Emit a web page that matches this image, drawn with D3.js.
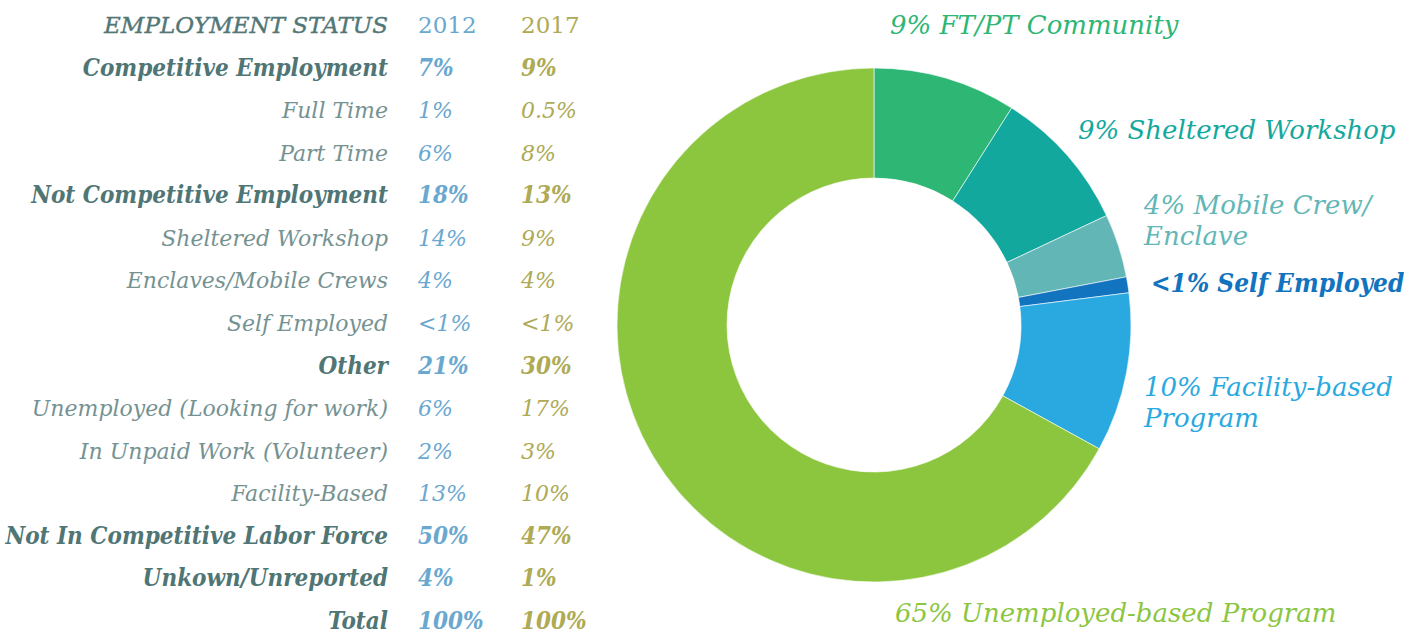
<!DOCTYPE html>
<html>
<head>
<meta charset="utf-8">
<script src="https://cdn.jsdelivr.net/npm/d3@7"></script>
<style>
  body { margin: 0; background: #fff; }
  svg text { font-family: 'DejaVu Serif', serif; font-style: italic; }
  svg text.strong { font-family: 'DejaVu Serif Condensed', 'DejaVu Serif', serif; font-stretch: condensed; font-weight: bold; }
</style>
</head>
<body>
<svg id="chart" width="1421" height="632"></svg>
<script>
// Table rows.
const statusLabels = ['Competitive Employment', 'Full Time', 'Part Time', 'Not Competitive Employment',
  'Sheltered Workshop', 'Enclaves/Mobile Crews', 'Self Employed', 'Other', 'Unemployed (Looking for work)',
  'In Unpaid Work (Volunteer)', 'Facility-Based', 'Not In Competitive Labor Force', 'Unkown/Unreported', 'Total']
const statusMain = [true, false, false, true, false, false, false, true, false, false, false, true, true, true]
const values2012 = ['7%', '1%', '6%', '18%', '14%', '4%', '<1%', '21%', '6%', '2%', '13%', '50%', '4%', '100%']
const values2017 = ['9%', '0.5%', '8%', '13%', '9%', '4%', '<1%', '30%', '17%', '3%', '10%', '47%', '1%', '100%']
const years = ['2012', '2017']

// Donut slices.
const sliceNames = ['FT/PT Community', 'Sheltered Workshop', 'Mobile Crew/ Enclave', 'Self Employed',
  'Facility-based Program', 'Unemployed-based Program']
const sliceValues = [9, 9, 4, 1, 10, 67]
const sliceLabels = [['9% FT/PT Community'], ['9% Sheltered Workshop'], ['4% Mobile Crew/', 'Enclave'],
  ['<1% Self Employed'], ['10% Facility-based', 'Program'], ['65% Unemployed-based Program']]
const sliceColors = ['#2db674', '#13a89e', '#62b7b6', '#1273bf', '#29a9e0', '#8cc63f']

const svg = d3.select('#chart')

// Table.
const labelRight = 388, col2012 = 418, col2017 = 521
const y = d3.scalePoint()
  .domain(d3.range(statusLabels.length + 1))
  .range([33, 629])

const header = svg.append('g')
header.append('text')
  .attr('x', labelRight).attr('y', y(0))
  .attr('text-anchor', 'end')
  .style('font-size', '23px')
  .style('fill', '#527777')
  .style('stroke', '#527777')
  .style('stroke-width', 0.4)
  .text('EMPLOYMENT STATUS')
header.selectAll('text.year')
  .data(years)
  .enter()
  .append('text')
    .attr('class', 'year')
    .attr('x', (d, i) => i === 0 ? col2012 : col2017)
    .attr('y', y(0))
    .style('font-style', 'normal')
    .style('font-size', '23px')
    .style('fill', (d, i) => i === 0 ? '#6aa8cf' : '#aeaa55')
    .text(d => d)

const rows = svg.append('g')
  .selectAll('g')
  .data(statusLabels)
  .enter()
  .append('g')
    .attr('transform', (d, i) => 'translate(0,' + y(i + 1) + ')')

rows.append('text')
  .attr('class', (d, i) => statusMain[i] ? 'strong' : null)
  .attr('x', labelRight)
  .attr('text-anchor', 'end')
  .style('font-size', (d, i) => statusMain[i] ? '24px' : '22px')
  .style('fill', (d, i) => statusMain[i] ? '#4f7575' : '#759292')
  .text(d => d)

rows.append('text')
  .attr('class', (d, i) => statusMain[i] ? 'strong' : null)
  .attr('x', col2012)
  .style('font-size', (d, i) => statusMain[i] ? '24px' : '22px')
  .style('fill', '#6aa8cf')
  .text((d, i) => values2012[i])

rows.append('text')
  .attr('class', (d, i) => statusMain[i] ? 'strong' : null)
  .attr('x', col2017)
  .style('font-size', (d, i) => statusMain[i] ? '24px' : '22px')
  .style('fill', '#aeaa55')
  .text((d, i) => values2017[i])

// Donut.
const cx = 874, cy = 325, outer = 257, inner = 147

const pie = d3.pie().sort(null).value(d => d)
const arc = d3.arc().innerRadius(inner).outerRadius(outer)

svg.append('g')
  .attr('transform', 'translate(' + cx + ',' + cy + ')')
  .selectAll('path')
  .data(pie(sliceValues))
  .enter()
  .append('path')
    .attr('d', arc)
    .style('fill', (d, i) => sliceColors[i])
    .style('stroke', '#fff')
    .style('stroke-width', 0.6)

// Slice labels (anchor position of first line).
const labelPos = [[890, 34], [1078, 139], [1144, 214], [1151, 292], [1144, 396], [895, 622]]

const labels = svg.append('g')
  .selectAll('text')
  .data(sliceLabels)
  .enter()
  .append('text')
    .attr('class', (d, i) => i === 3 ? 'strong' : null)
    .attr('x', (d, i) => labelPos[i][0])
    .attr('y', (d, i) => labelPos[i][1])
    .style('font-size', (d, i) => i === 3 ? '26px' : '26px')
    .style('fill', (d, i) => sliceColors[i])

labels.selectAll('tspan')
  .data(d => d)
  .enter()
  .append('tspan')
    .attr('x', function() { return d3.select(this.parentNode).attr('x') })
    .attr('dy', (d, j) => j === 0 ? 0 : 31)
    .text(d => d)
</script>
</body>
</html>
